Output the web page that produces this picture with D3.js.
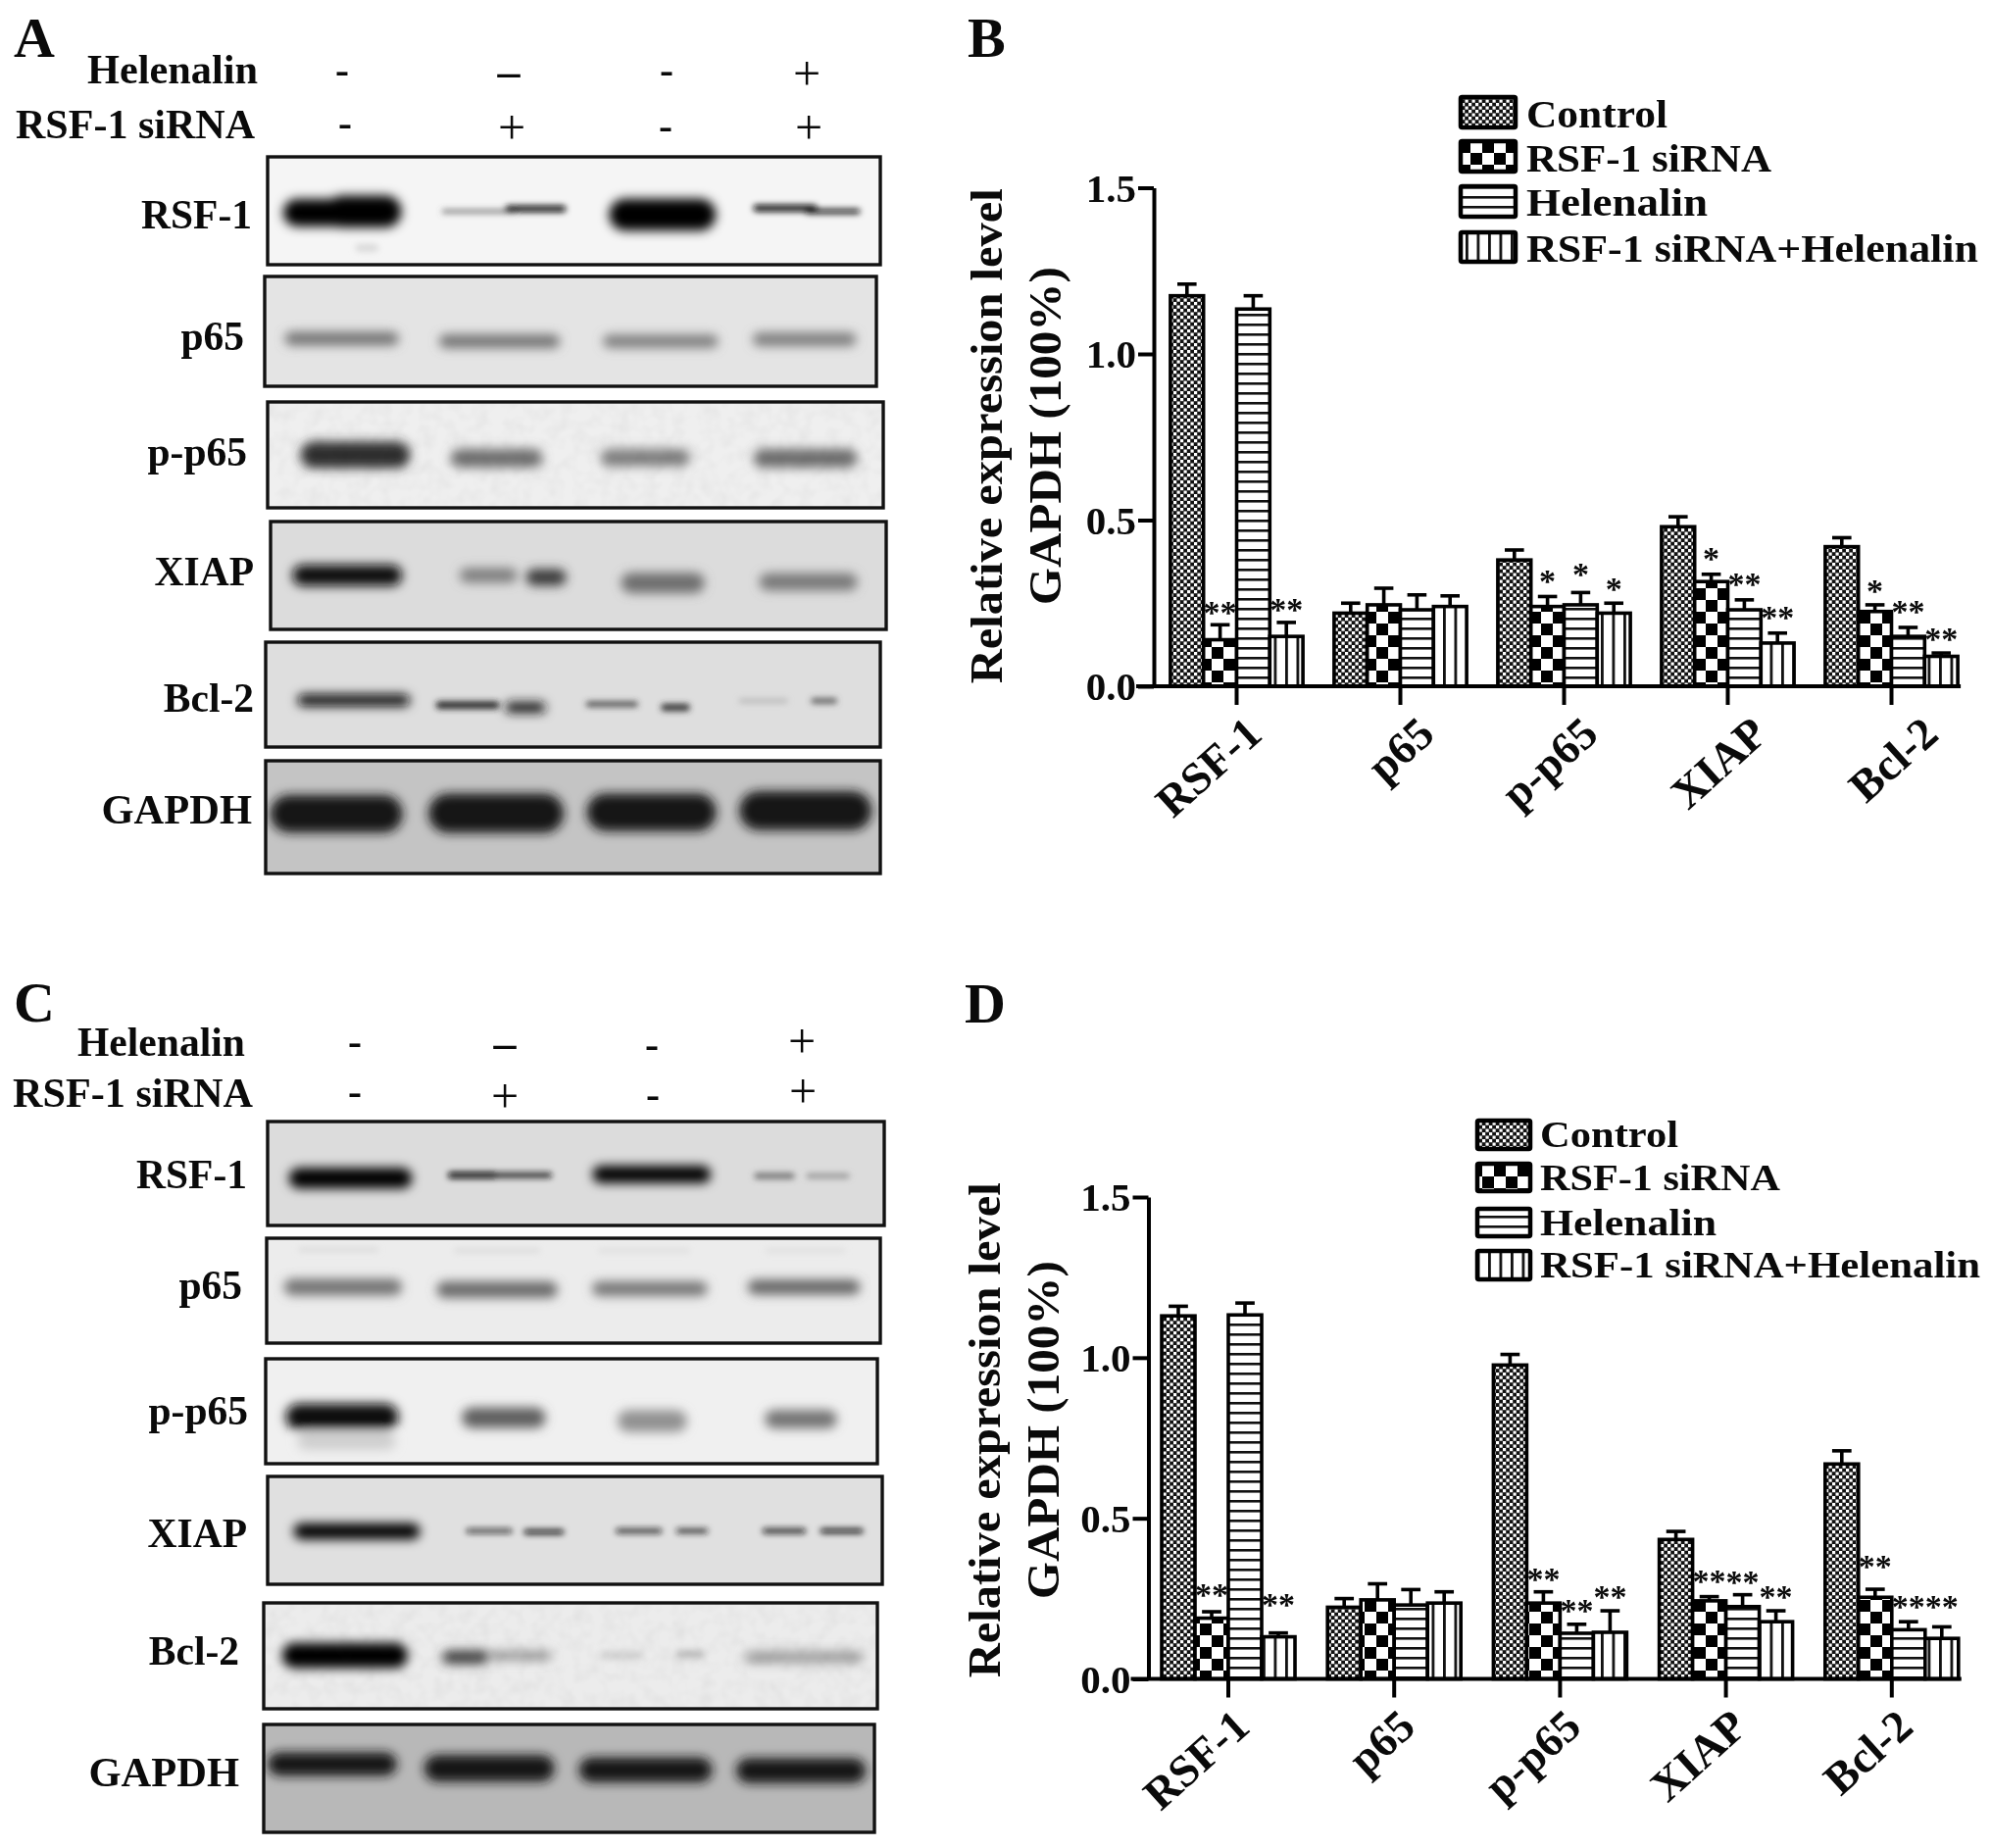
<!DOCTYPE html>
<html><head><meta charset="utf-8">
<script src="https://cdn.jsdelivr.net/npm/d3@7/dist/d3.min.js"></script>
<style>
html,body{margin:0;padding:0;background:#fff}
svg{display:block;filter:blur(0.7px)}
text{font-family:"Liberation Serif",serif;font-weight:700;fill:#0a0a0a}
</style></head><body><svg id="fig" width="2031" height="1885"></svg>
<script>
// ---------- chart data ----------
const categories = ["RSF-1","p65","p-p65","XIAP","Bcl-2"];
const seriesNames = ["Control","RSF-1 siRNA","Helenalin","RSF-1 siRNA+Helenalin"];
const yTicks = [0,0.5,1,1.5];
const yTitleA = "Relative expression level";
const yTitleB = "GAPDH (100%)";

const bMeans = [
  [1.175,0.22,0.38,0.48,0.42],
  [0.14,0.245,0.24,0.315,0.225],
  [1.135,0.23,0.245,0.23,0.15],
  [0.15,0.24,0.22,0.13,0.09]];
const bTops = [
  [1.21,0.25,0.41,0.51,0.447],
  [0.185,0.295,0.27,0.337,0.245],
  [1.175,0.275,0.282,0.26,0.177],
  [0.192,0.272,0.25,0.16,0.10]];
const bStars = [
  ["","","","",""],
  ["**","","*","*","*"],
  ["","","*","**","**"],
  ["**","","*","**","**"]];
const bStarLevels = [
  [0,0,0,0,0],
  [0.231,0,0.324,0.392,0.294],
  [0,0,0.344,0.317,0.234],
  [0.238,0,0.302,0.214,0.151]];

const dMeans = [
  [1.13,0.223,0.977,0.434,0.669],
  [0.189,0.246,0.236,0.243,0.254],
  [1.133,0.23,0.142,0.225,0.153],
  [0.131,0.236,0.145,0.178,0.126]];
const dTops = [
  [1.16,0.25,1.01,0.459,0.71],
  [0.209,0.296,0.271,0.256,0.279],
  [1.17,0.278,0.17,0.262,0.178],
  [0.143,0.271,0.212,0.212,0.162]];
const dStars = [
  ["","","","",""],
  ["**","","**","**","**"],
  ["","","**","**","**"],
  ["**","","**","**","**"]];
const dStarLevels = [
  [0,0,0,0,0],
  [0.27,0,0.318,0.314,0.36],
  [0,0,0.22,0.31,0.232],
  [0.24,0,0.264,0.264,0.232]];

// ---------- western-blot panels: label, then bands in the units of the crop box ----------
const blotLabels = ["RSF-1","p65","p-p65","XIAP","Bcl-2","GAPDH"];
const helenalinSignsA = ["-","\u2013","-","+"];
const rnaSignsA = ["-","+","-","+"];

const blotsA = [
 {box:[273,898,160,270],crop:[468,1530,480,812],bg:"#f5f5f5",label:[257,233],bands:[
   [495,640,652,84,0],[570,700,648,98,0],[770,900,648,10,95],[880,985,640,20,15],[1060,1245,658,98,0],
   [1310,1420,638,20,10],[1400,1495,648,14,15],[620,660,760,22,215]]},
 {box:[270,894,282,394],crop:[462,1525,848,1187],bg:"#e4e4e4",label:[249,357],bands:[
   [497,695,1040,42,115],[765,975,1048,42,115],[1050,1250,1048,40,125],[1310,1490,1042,42,125]]},
 {box:[273,901,410,518],crop:[468,1535,1230,1550],bg:"#efefef",noise:1,label:[252,475],bands:[
   [525,715,1390,80,45],[785,945,1400,56,110],[1045,1200,1398,52,125],[1310,1490,1400,56,108]]},
 {box:[276,904,532,642],crop:[472,1540,158,487],bg:"#dcdcdc",label:[259,597],bands:[
   [510,700,322,64,10],[800,900,322,44,125],[915,985,328,50,55],[1080,1225,345,62,110],[1320,1490,342,52,120]]},
 {box:[271,898,655,762],crop:[465,1530,527,845],bg:"#dedede",label:[259,726],bands:[
   [520,715,703,36,15],[760,870,718,22,35],[880,950,725,32,25],[1020,1110,715,15,60],[1150,1200,725,22,50],
   [1285,1370,705,10,170],[1410,1455,705,16,85]]},
 {box:[271,898,776,891],crop:[462,1530,887,1233],bg:"#c4c4c4",label:[257,840],bands:[
   [470,700,1050,115,20],[745,980,1048,120,20],[1020,1245,1045,115,20],[1285,1515,1040,120,20]]}
];
const blotsC = [
 {box:[273,902,1144,1250],crop:[468,1535,462,783],bg:"#dcdcdc",label:[252,1212],bands:[
   [505,718,637,64,0],[780,865,628,20,10],[860,960,628,15,25],[1030,1235,625,54,0],[1310,1380,630,18,110],[1400,1475,630,14,140]]},
 {box:[272,898,1263,1370],crop:[465,1530,820,1142],bg:"#ececec",label:[247,1325],bands:[
   [495,700,970,50,115],[760,970,978,50,105],[1030,1230,975,44,115],[1300,1495,970,44,100],
   [520,660,855,12,215],[790,940,858,12,215],[1040,1200,858,12,220],[1330,1470,858,12,220]]},
 {box:[271,895,1386,1493],crop:[465,1525,1188,1508],bg:"#f0f0f0",label:[253,1453],bands:[
   [500,695,1365,80,15],[805,950,1368,62,95],[1075,1195,1378,66,145],[1330,1455,1372,56,115],[520,690,1440,50,205]]},
 {box:[273,900,1506,1616],crop:[465,1533,232,568],bg:"#e0e0e0",label:[252,1578],bands:[
   [510,730,403,50,5],[810,890,402,12,20],[910,980,405,15,10],[1070,1150,402,13,25],[1175,1230,402,13,30],[1325,1400,402,15,20],[1425,1500,402,15,10]]},
 {box:[269,895,1635,1743],crop:[460,1525,617,945],bg:"#ececec",noise:1,label:[244,1698],bands:[
   [492,710,780,78,0],[770,850,785,42,60],[850,960,780,26,140],[1045,1120,778,24,210],[1175,1225,775,24,190],[1295,1500,785,36,155]]},
 {box:[269,892,1759,1869],crop:[458,1523,990,1322],bg:"#b8b8b8",label:[244,1822],bands:[
   [465,690,1112,72,20],[738,965,1125,82,20],[1008,1240,1130,76,20],[1282,1508,1132,76,20]]}
];

// ---------- drawing ----------
const svg = d3.select("#fig");
const defs = svg.append("defs");
defs.append("filter").attr("id","bandBlur").attr("x","-30%").attr("y","-100%").attr("width","160%").attr("height","300%")
  .append("feGaussianBlur").attr("stdDeviation",5.2);
defs.append("filter").attr("id","thinBlur").attr("x","-30%").attr("y","-200%").attr("width","160%").attr("height","500%")
  .append("feGaussianBlur").attr("stdDeviation",3);
const nf = defs.append("filter").attr("id","grain").attr("x",0).attr("y",0).attr("width","100%").attr("height","100%");
nf.append("feTurbulence").attr("type","fractalNoise").attr("baseFrequency",0.07).attr("numOctaves",2).attr("seed",4);
nf.append("feColorMatrix").attr("values","0 0 0 0 0  0 0 0 0 0  0 0 0 0 0  1.2 0 0 0 -0.42");

function pattern(id,w,h,draw){
  const p = defs.append("pattern").attr("id",id).attr("patternUnits","userSpaceOnUse").attr("width",w).attr("height",h);
  draw(p);
}
pattern("pCtl",7,7,p=>{
  p.append("rect").attr("width",7).attr("height",7).attr("fill","#111");
  p.append("rect").attr("x",0).attr("y",0).attr("width",3.2).attr("height",3.2).attr("fill","#fff");
  p.append("rect").attr("x",3.5).attr("y",3.5).attr("width",3.2).attr("height",3.2).attr("fill","#fff");
});
pattern("pChk",24,24,p=>{
  p.append("rect").attr("width",24).attr("height",24).attr("fill","#fff");
  p.append("rect").attr("x",0).attr("y",0).attr("width",12).attr("height",12).attr("fill","#000");
  p.append("rect").attr("x",12).attr("y",12).attr("width",12).attr("height",12).attr("fill","#000");
});
pattern("pHor",10,10,p=>{
  p.append("rect").attr("width",10).attr("height",10).attr("fill","#fff");
  p.append("rect").attr("y",0).attr("width",10).attr("height",2.6).attr("fill","#111");
});
pattern("pVer",11.5,10,p=>{
  p.append("rect").attr("width",11.5).attr("height",10).attr("fill","#fff");
  p.append("rect").attr("x",0).attr("width",2.8).attr("height",10).attr("fill","#111");
});
const fills = ["url(#pCtl)","url(#pChk)","url(#pHor)","url(#pVer)"];

function txt(s,x,y,size,opt={}){
  const t = svg.append("text").attr("x",x).attr("y",y).attr("font-size",size)
    .attr("text-anchor",opt.anchor||"start").text(s);
  if(opt.len){t.attr("textLength",opt.len).attr("lengthAdjust","spacingAndGlyphs");}
  if(opt.weight){t.style("font-weight",opt.weight);}
  return t;
}

let clipN = 0;
function drawBlots(blots){
  blots.forEach((b,i)=>{
    const [x0,x1,y0,y1]=b.box, [c0,c1,c2,c3]=b.crop;
    const sx=d3.scaleLinear().domain([c0,c1]).range([x0,x1]);
    const sy=d3.scaleLinear().domain([c2,c3]).range([y0,y1]);
    const id="clip"+(clipN++);
    defs.append("clipPath").attr("id",id).append("rect").attr("x",x0).attr("y",y0).attr("width",x1-x0).attr("height",y1-y0);
    const g=svg.append("g").attr("clip-path",`url(#${id})`);
    g.append("rect").attr("x",x0).attr("y",y0).attr("width",x1-x0).attr("height",y1-y0).attr("fill",b.bg);
    const isThin=d=>d[3]<26;
    [["url(#bandBlur)",b.bands.filter(d=>!isThin(d))],["url(#thinBlur)",b.bands.filter(isThin)]].forEach(([f,list])=>{
      g.append("g").attr("filter",f).selectAll("rect").data(list).join("rect")
        .attr("x",d=>sx(d[0])).attr("width",d=>sx(d[1])-sx(d[0]))
        .attr("y",d=>sy(d[2]-d[3]/2)).attr("height",d=>sy(d[2]+d[3]/2)-sy(d[2]-d[3]/2))
        .attr("rx",d=>Math.min(24,(sy(d[2]+d[3]/2)-sy(d[2]-d[3]/2))/2))
        .attr("fill",d=>d3.rgb(d[4],d[4],d[4]));
    });
    if(b.noise){
      g.append("rect").attr("x",x0).attr("y",y0).attr("width",x1-x0).attr("height",y1-y0)
        .attr("filter","url(#grain)").attr("opacity",0.05);
    }
    svg.append("rect").attr("x",x0).attr("y",y0).attr("width",x1-x0).attr("height",y1-y0)
      .attr("fill","none").attr("stroke","#111").attr("stroke-width",3.4);
    txt(blotLabels[i],b.label[0],b.label[1],blotLabels[i]==="GAPDH"?42.5:41.5,{anchor:"end"});
  });
}
drawBlots(blotsA); drawBlots(blotsC);

function sign(s,x,y){
  const plus = s==="+", dash = s==="\u2013";
  const size = plus?50:(dash?46:42);
  txt(s,x,y+(plus?0.25:0.21)*size,size,{anchor:"middle",weight:plus?400:700});
}
// panel A header
txt("A",14,58,58); txt("Helenalin",89,85,41.5,{len:174}); txt("RSF-1 siRNA",16,141,41.5,{len:244});
[[349,76],[519,78],[680,76],[823,79]].forEach((p,i)=>sign(helenalinSignsA[i],p[0],p[1]));
[[352,130],[522,134],[679,133],[825,134]].forEach((p,i)=>sign(rnaSignsA[i],p[0],p[1]));
// panel C header
txt("C",14,1042,58); txt("Helenalin",79,1077,41.5,{len:171}); txt("RSF-1 siRNA",13,1129,41.5,{len:245});
[[362,1067],[515,1069],[665,1070],[818,1066]].forEach((p,i)=>sign(helenalinSignsA[i],p[0],p[1]));
[[362,1118],[515,1122],[666,1121],[819,1117]].forEach((p,i)=>sign(rnaSignsA[i],p[0],p[1]));
txt("B",987,58,58); txt("D",984,1043,58);

function barChart(c){
  const x=d3.scaleBand().domain(categories).range(c.xr);
  const bw=c.barW;
  const x1=d3.scaleBand().domain(seriesNames).range([-2*bw,2*bw]);
  const y=d3.scaleLinear().domain([0,1.5]).range(c.yr);
  const g=svg.append("g");
  seriesNames.forEach((s,si)=>{
    const sg=g.append("g");
    const eg=sg.selectAll("g").data(categories).join("g");
    const cx=(d)=>x(d)+x.bandwidth()/2+x1(s)+bw/2;
    eg.append("line").attr("x1",cx).attr("x2",cx).attr("y1",(d,i)=>y(c.means[si][i])).attr("y2",(d,i)=>y(c.tops[si][i]))
      .attr("stroke","#000").attr("stroke-width",3.6);
    eg.append("line").attr("x1",d=>cx(d)-bw*0.29).attr("x2",d=>cx(d)+bw*0.29).attr("y1",(d,i)=>y(c.tops[si][i])).attr("y2",(d,i)=>y(c.tops[si][i]))
      .attr("stroke","#000").attr("stroke-width",3.6);
    eg.append("rect").attr("x",d=>cx(d)-bw/2).attr("width",bw)
      .attr("y",(d,i)=>y(c.means[si][i])).attr("height",(d,i)=>y(0)-y(c.means[si][i]))
      .attr("fill",fills[si]).attr("stroke","#000").attr("stroke-width",3.6);
    eg.append("text").attr("x",cx).attr("y",(d,i)=>y(c.starLevels[si][i])+14)
      .attr("text-anchor","middle").attr("font-size",34)
      .text((d,i)=>c.stars[si][i]);
  });
  const ax=svg.append("g").attr("transform",`translate(${c.axisX},0)`)
    .call(d3.axisLeft(y).tickValues(yTicks).tickFormat(d3.format(".1f")).tickSize(16).tickSizeOuter(0).tickPadding(2));
  ax.selectAll("line,path").attr("stroke","#000").attr("stroke-width",4);
  ax.selectAll("text").attr("font-size",41).attr("fill","#0a0a0a").attr("dy","0.33em").style("font-family","Liberation Serif");
  const bx=svg.append("g").attr("transform",`translate(0,${c.yr[0]})`)
    .call(d3.axisBottom(x).tickSize(19).tickSizeOuter(0));
  const last=x(categories[4])+x.bandwidth()/2+2*bw+3;
  bx.select(".domain").attr("d",`M${c.axisX-18},0H${last}`);
  bx.selectAll("line,path").attr("stroke","#000").attr("stroke-width",4);
  bx.selectAll("text").attr("font-size",46).attr("text-anchor","end").attr("fill","#0a0a0a").attr("y",0).attr("dy",0)
    .attr("transform",(d,i)=>`translate(${c.lab[0]+c.labShift[i]},${c.lab[1]}) rotate(-42)`).style("font-family","Liberation Serif");
  const cy=(c.yr[0]+c.yr[1])/2+c.tShift;
  svg.append("text").attr("transform",`translate(${c.t1},${cy}) rotate(-90)`)
    .attr("text-anchor","middle").attr("font-size",46).attr("textLength",c.t1len).attr("lengthAdjust","spacingAndGlyphs").text(yTitleA);
  svg.append("text").attr("transform",`translate(${c.t2},${cy}) rotate(-90)`)
    .attr("text-anchor","middle").attr("font-size",46).attr("textLength",c.t2len).attr("lengthAdjust","spacingAndGlyphs").text(yTitleB);
  seriesNames.forEach((s,i)=>{
    const r=c.legend.rows[i];
    svg.append("rect").attr("x",c.legend.x).attr("y",r[0]).attr("width",c.legend.w).attr("height",r[1]-r[0])
      .attr("fill",fills[i]).attr("stroke","#000").attr("stroke-width",4.5).attr("rx",1.5);
    txt(s,c.legend.tx,r[2],c.legend.size,{len:c.legend.lens[i]});
  });
}
barChart({axisX:1177,xr:[1178,2013],yr:[700,191.5],barW:33.8,means:bMeans,tops:bTops,stars:bStars,starLevels:bStarLevels,
  lab:[24,52],labShift:[4,13,13,19,26],t1:1022,t2:1082,t1len:505,t2len:345,tShift:-1,
  legend:{x:1490,w:56,tx:1557,size:40,lens:[144,250,185,461],rows:[[99,130,130],[144,175,175],[190,221,220],[237,267,267]]}});
barChart({axisX:1171.5,xr:[1168.4,2014.4],yr:[1712.5,1221],barW:34,means:dMeans,tops:dTops,stars:dStars,starLevels:dStarLevels,
  lab:[24,52],labShift:[0,0,0,0,0],t1:1020,t2:1080,t1len:505,t2len:345,tShift:-8,
  legend:{x:1507,w:54,tx:1571,size:38,lens:[141,245,180,449],rows:[[1143,1172,1170],[1187,1215,1214],[1233,1261,1260],[1276,1305,1303]]}});
</script></body></html>
